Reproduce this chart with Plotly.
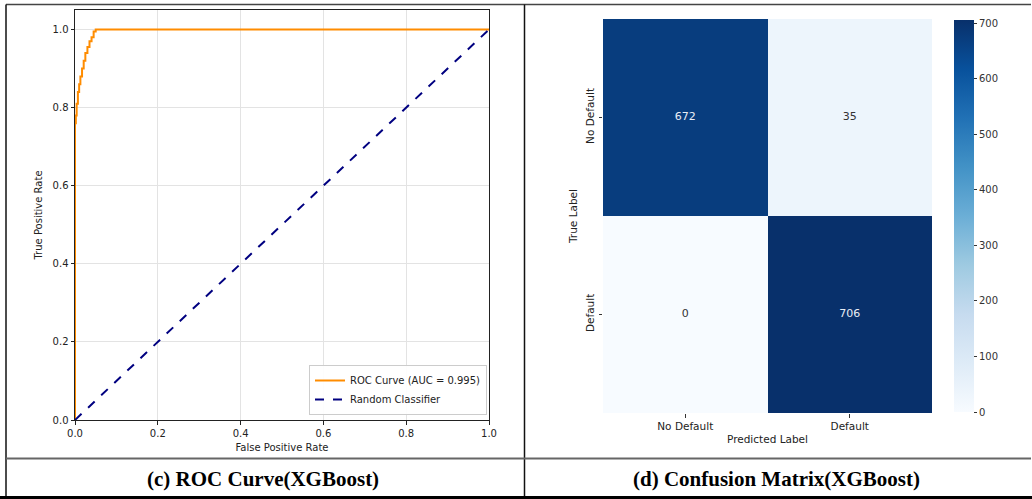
import plotly.graph_objects as go

# ---- data ----
fpr = [0, 0, 0.002, 0.002, 0.004, 0.004, 0.007, 0.007, 0.010, 0.010, 0.013, 0.013,
       0.017, 0.017, 0.021, 0.021, 0.025, 0.025, 0.030, 0.030, 0.035, 0.035,
       0.040, 0.040, 0.045, 0.045, 0.050, 0.050, 1.0]
tpr = [0, 0.76, 0.76, 0.78, 0.78, 0.81, 0.81, 0.84, 0.84, 0.86, 0.86, 0.88,
       0.88, 0.90, 0.90, 0.92, 0.92, 0.94, 0.94, 0.955, 0.955, 0.97,
       0.97, 0.98, 0.98, 0.995, 0.995, 1.0, 1.0]
diag_x = [0, 1]
diag_y = [0, 1]
roc_label = "ROC Curve (AUC = 0.995)"
rand_label = "Random Classifier"

cm_labels = ["No Default", "Default"]
cm_values = [[672, 35],
             [0, 706]]
cbar_ticks = [0, 100, 200, 300, 400, 500, 600, 700]
captions = ["(c) ROC Curve(XGBoost)", "(d) Confusion Matrix(XGBoost)"]

W, H = 1032, 499
def px(x):
    return x / W
def py(y):
    return (H - y) / H

FONT = "DejaVu Sans"
fig = go.Figure()

# ROC
fig.add_trace(go.Scatter(x=fpr, y=tpr, mode="lines", name=roc_label,
                         line=dict(color="#ff8c00", width=2), xaxis="x", yaxis="y"))
fig.add_trace(go.Scatter(x=diag_x, y=diag_y, mode="lines", name=rand_label,
                         line=dict(color="#000080", width=2, dash="dash"), xaxis="x", yaxis="y"))

# Confusion matrix
vmax = max(max(r) for r in cm_values)
fig.add_trace(go.Heatmap(z=cm_values, x=cm_labels, y=cm_labels, colorscale="Blues",
                         zmin=0, zmax=vmax, xaxis="x2", yaxis="y2",
                         showscale=True, hoverinfo="z",
                         colorbar=dict(x=px(954), xanchor="left", thickness=20,
                                       y=py(412), yanchor="bottom", len=(412 - 20) / H,
                                       lenmode="fraction", outlinewidth=0, xpad=0, ypad=0,
                                       tickvals=cbar_ticks, ticks="outside", ticklen=3.5,
                                       tickcolor="#333", tickfont=dict(size=10, color="#333", family=FONT))))
tx, ty, tt, tc = [], [], [], []
for i, row in enumerate(cm_values):
    for j, v in enumerate(row):
        tx.append(cm_labels[j]); ty.append(cm_labels[i]); tt.append(str(v))
        tc.append("#e8eef6" if v > vmax / 2 else "#333333")
fig.add_trace(go.Scatter(x=tx, y=ty, text=tt, mode="text", textfont=dict(color=tc, size=11, family=FONT),
                         xaxis="x2", yaxis="y2", showlegend=False, hoverinfo="skip"))

axis_common = dict(showline=True, linecolor="#222", linewidth=1, mirror=True, ticks="outside",
                   ticklen=3.5, tickcolor="#222", showgrid=True, gridcolor="#e3e3e3", gridwidth=1,
                   zeroline=False, tickfont=dict(size=10, color="#222", family=FONT),
                   layer="below traces", automargin=False)

fig.update_layout(
    width=W, height=H, margin=dict(l=0, r=0, t=0, b=0, pad=0),
    paper_bgcolor="white", plot_bgcolor="white",
    font=dict(family=FONT, color="#222"),
    xaxis=dict(domain=[px(75), px(489)], range=[0, 1], tickvals=[0, 0.2, 0.4, 0.6, 0.8, 1.0],
               tickformat=".1f", anchor="y",
               title=dict(text="False Positive Rate", font=dict(size=10), standoff=6), **axis_common),
    yaxis=dict(domain=[py(420), py(10)], range=[0, 1.05], tickvals=[0, 0.2, 0.4, 0.6, 0.8, 1.0],
               tickformat=".1f", anchor="x",
               title=dict(text="True Positive Rate", font=dict(size=10), standoff=8), **axis_common),
    xaxis2=dict(domain=[px(603), px(932)], anchor="y2", showgrid=False, zeroline=False,
                ticks="outside", ticklen=3.5, tickcolor="#333", automargin=False,
                tickfont=dict(size=10.5, color="#222", family=FONT),
                title=dict(text="Predicted Label", font=dict(size=10.5), standoff=4)),
    yaxis2=dict(domain=[py(413), py(19)], anchor="x2", showgrid=False, zeroline=False,
                autorange="reversed", ticks="outside", ticklen=3.5, tickcolor="#333", tickangle=-90,
                automargin=False,
                tickfont=dict(size=10.5, color="#222", family=FONT),
                title=dict(text="True Label", font=dict(size=10.5), standoff=4)),
    legend=dict(x=px(487), xanchor="right", y=py(415), yanchor="bottom",
                bgcolor="rgba(255,255,255,0.9)", bordercolor="#cccccc", borderwidth=1,
                font=dict(size=10, family=FONT, color="#222"), itemwidth=30,
                tracegroupgap=0),
)

# table frame
lines = [
    (6, 4.5, 1031, 4.5, "#444", 1.5),
    (6, 4.5, 6, 497, "#111", 1.5),
    (524.5, 4.5, 524.5, 497, "#111", 1.5),
    (6, 458.5, 1031, 458.5, "#666", 2),
    (0, 497.5, 1032, 497.5, "#000", 3),
]
for x0, y0, x1, y1, c, w in lines:
    fig.add_shape(type="line", xref="paper", yref="paper", x0=px(x0), y0=py(y0), x1=px(x1), y1=py(y1),
                  line=dict(color=c, width=w))

for cx, text in zip([263, 776], captions):
    fig.add_annotation(xref="paper", yref="paper", x=px(cx), y=py(479), xanchor="center", yanchor="middle",
                       text="<b>" + text + "</b>",
                       showarrow=False, font=dict(family="Liberation Serif", size=21, color="#000"))

fig.write_html("out.html", config={"displayModeBar": False},
               post_script="document.body.style.margin='0';")
